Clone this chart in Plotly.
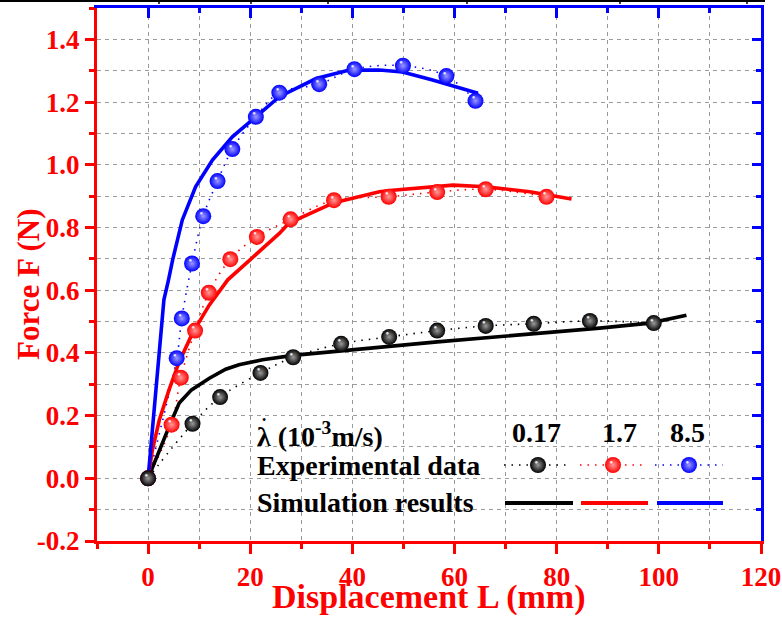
import plotly.graph_objects as go

# ---------------- data ----------------
# Experimental data, strain rate 0.17e-3 m/s (black)
exp_x_017 = [0, 8.7, 14.1, 22.0, 28.4, 37.8, 47.2, 56.6, 66.1, 75.5, 86.5, 99.0]
exp_y_017 = [0, 0.174, 0.259, 0.336, 0.386, 0.429, 0.451, 0.471, 0.486, 0.493, 0.502, 0.495]
# Experimental data, 1.7e-3 m/s (red)
exp_x_17 = [0, 4.6, 6.4, 9.2, 11.9, 16.1, 21.3, 27.9, 36.4, 47.1, 56.6, 66.1, 78.0]
exp_y_17 = [0, 0.171, 0.321, 0.471, 0.592, 0.699, 0.770, 0.826, 0.887, 0.898, 0.913, 0.922, 0.898]
# Experimental data, 8.5e-3 m/s (blue)
exp_x_85 = [0, 5.6, 6.6, 8.6, 10.8, 13.6, 16.5, 21.1, 25.7, 33.5, 40.4, 49.9, 58.4, 64.1]
exp_y_85 = [0, 0.383, 0.510, 0.685, 0.836, 0.948, 1.050, 1.153, 1.230, 1.257, 1.305, 1.316, 1.283, 1.204]

# Simulation results
sim_x_017 = [0, 2.2, 4.4, 6.1, 8.5, 12.0, 15.2, 17.8, 22.4, 28.4, 38.1, 47.3, 56.6, 88.4, 98.2, 105.4]
sim_y_017 = [0, 0.091, 0.176, 0.240, 0.282, 0.319, 0.348, 0.362, 0.378, 0.392, 0.407, 0.420, 0.435, 0.479, 0.495, 0.520]
sim_x_17 = [0, 0.85, 2.2, 4.1, 6.1, 8.7, 12.0, 15.6, 19.9, 25.7, 27.6, 36.4, 45.3, 47.3, 59.7, 66.1, 74.7, 82.9]
sim_y_17 = [0, 0.091, 0.186, 0.282, 0.372, 0.463, 0.553, 0.633, 0.696, 0.781, 0.814, 0.879, 0.914, 0.918, 0.935, 0.930, 0.914, 0.891]
sim_x_85 = [0, 3.1, 4.0, 4.8, 6.7, 9.3, 12.6, 16.5, 21.1, 25.7, 32.9, 39.4, 45.3, 49.8, 55.7, 60.3, 64.6]
sim_y_85 = [0, 0.569, 0.633, 0.696, 0.824, 0.930, 1.015, 1.089, 1.153, 1.217, 1.275, 1.302, 1.302, 1.296, 1.270, 1.247, 1.228]

x_tick_vals = [0, 20, 40, 60, 80, 100, 120]
x_tick_text = ["0", "20", "40", "60", "80", "100", "120"]
y_tick_vals = [-0.2, 0.0, 0.2, 0.4, 0.6, 0.8, 1.0, 1.2, 1.4]
y_tick_text = ["-0.2", "0.0", "0.2", "0.4", "0.6", "0.8", "1.0", "1.2", "1.4"]

rate_labels = ["0.17", "1.7", "8.5"]
colors = ["#000000", "#ff0000", "#0000ff"]
glow = ["#9a9a9a", "#ff9a9a", "#9a9aff"]

FONT = "Liberation Serif, Times New Roman, serif"
RED = "#ff0000"
BLUE = "#0000ff"

W, H = 782, 617
ML, MR, MT, MB = 97, 21, 8, 76
PW, PH = W - ML - MR, H - MT - MB

def px(x):
    return (x - ML) / PW

def py(y):
    return (H - MB - y) / PH

fig = go.Figure()

exp_sets = [(exp_x_017, exp_y_017), (exp_x_17, exp_y_17), (exp_x_85, exp_y_85)]
sim_sets = [(sim_x_017, sim_y_017), (sim_x_17, sim_y_17), (sim_x_85, sim_y_85)]

DOT = "1.5px,6px"

# dotted connections of experimental data
for (xs, ys), c in zip(exp_sets, colors):
    fig.add_trace(go.Scatter(x=xs, y=ys, mode="lines", showlegend=False, hoverinfo="skip",
                             line=dict(color=c, width=1.6, dash=DOT, shape="spline", smoothing=1.0)))
# simulation curves
for (xs, ys), c in zip(sim_sets, colors):
    fig.add_trace(go.Scatter(x=xs, y=ys, mode="lines", showlegend=False,
                             line=dict(color=c, width=3.6)))
# experimental markers (blue, red, then black so origin is black)
for i in [2, 1, 0]:
    xs, ys = exp_sets[i]
    fig.add_trace(go.Scatter(x=xs, y=ys, mode="markers", showlegend=False,
                             marker=dict(size=16, color=colors[i], line=dict(width=0),
                                         gradient=dict(type="radial", color=glow[i]))))
    fig.add_trace(go.Scatter(x=xs, y=ys, mode="text", text=["●"] * len(xs), showlegend=False,
                             hoverinfo="skip", textposition="top left",
                             textfont=dict(size=6, color="rgba(255,255,255,0.85)")))

# dummy trace for the blue top/right axes
fig.add_trace(go.Scatter(x=[], y=[], xaxis="x2", yaxis="y2", showlegend=False))

# ---- custom legend (pixel coordinates on a hidden overlay axis) ----
leg_mark_x = [538, 613, 689]
leg_dot_x0 = [504, 580, 655]
leg_dot_x1 = [567, 645, 723]
leg_line_x0 = [505, 581, 657]
leg_line_x1 = [573, 648, 723]
for i, c in enumerate(colors):
    fig.add_trace(go.Scatter(x=[leg_dot_x0[i], leg_dot_x1[i]], y=[465, 465], xaxis="x3", yaxis="y3",
                             mode="lines", showlegend=False, hoverinfo="skip",
                             line=dict(color=c, width=1.6, dash=DOT)))
    fig.add_trace(go.Scatter(x=[leg_line_x0[i], leg_line_x1[i]], y=[503, 503], xaxis="x3", yaxis="y3",
                             mode="lines", showlegend=False, hoverinfo="skip",
                             line=dict(color=c, width=4)))
    fig.add_trace(go.Scatter(x=[leg_mark_x[i]], y=[465], xaxis="x3", yaxis="y3", mode="markers",
                             showlegend=False, hoverinfo="skip",
                             marker=dict(size=16, color=c, line=dict(width=0),
                                         gradient=dict(type="radial", color=glow[i]))))
    fig.add_trace(go.Scatter(x=[leg_mark_x[i]], y=[465], xaxis="x3", yaxis="y3", mode="text",
                             text=["●"], showlegend=False, hoverinfo="skip", textposition="top left",
                             textfont=dict(size=6, color="rgba(255,255,255,0.85)")))

leg_font = dict(family=FONT, size=28, color="black", weight="bold")
annotations = [
    dict(x=px(255), y=py(434), text="λ (10<sup>-3</sup>m/s)", xanchor="left"),
    dict(x=px(536), y=py(432), text=rate_labels[0], xanchor="center"),
    dict(x=px(619), y=py(432), text=rate_labels[1], xanchor="center"),
    dict(x=px(687), y=py(432), text=rate_labels[2], xanchor="center"),
    dict(x=px(255), y=py(465), text="Experimental data", xanchor="left"),
    dict(x=px(255), y=py(502), text="Simulation results", xanchor="left"),
]
for a in annotations:
    a.update(xref="paper", yref="paper", yanchor="middle", showarrow=False, font=leg_font)
# dot over lambda (time derivative)
annotations.append(dict(x=px(264), y=py(420), xref="paper", yref="paper", text="•", showarrow=False,
                        xanchor="center", yanchor="middle",
                        font=dict(family=FONT, size=12, color="black")))
# axis titles
annotations.append(dict(x=px(429), y=py(597), xref="paper", yref="paper", text="Displacement L (mm)",
                        showarrow=False, xanchor="center", yanchor="middle",
                        font=dict(family=FONT, size=34, color=RED, weight="bold")))
annotations.append(dict(x=px(28), y=py(285), xref="paper", yref="paper", text="Force F (N)",
                        showarrow=False, xanchor="center", yanchor="middle", textangle=-90,
                        font=dict(family=FONT, size=31, color=RED, weight="bold")))

# top border artefact (black rule at the very top of the image)
shapes = [dict(type="line", xref="paper", yref="paper", x0=px(0), x1=px(765), y0=py(1), y1=py(1),
               line=dict(color="black", width=2))]
for tx in [159, 251, 328, 467, 620, 747]:
    shapes.append(dict(type="line", xref="paper", yref="paper", x0=px(tx), x1=px(tx), y0=py(0), y1=py(4),
                       line=dict(color="black", width=1.5)))

grid = dict(gridcolor="#9a9a9a", griddash="4px,4px", gridwidth=1)
tickfont = dict(family=FONT, size=27, color=RED, weight="bold")

fig.update_layout(
    width=W, height=H,
    margin=dict(l=ML, r=MR, t=MT, b=MB, autoexpand=False),
    paper_bgcolor="white", plot_bgcolor="white",
    showlegend=False,
    annotations=annotations,
    shapes=shapes,
    xaxis=dict(range=[-10, 120], tickmode="array", tickvals=x_tick_vals, ticktext=x_tick_text,
               ticks="outside", ticklen=10, tickwidth=3, tickcolor=RED, automargin=False,
               showline=True, linecolor=RED, linewidth=3, zeroline=False,
               tickfont=tickfont, showgrid=True, **grid,
               minor=dict(dtick=10, tick0=0, ticks="outside", ticklen=5, tickwidth=3, tickcolor=RED,
                          showgrid=True, **grid)),
    yaxis=dict(range=[-0.2, 1.5], tickmode="array", tickvals=y_tick_vals, ticktext=y_tick_text,
               ticks="outside", ticklen=9, tickwidth=3, tickcolor=RED, automargin=False,
               showline=True, linecolor=RED, linewidth=3, zeroline=False,
               tickfont=tickfont, showgrid=True, **grid,
               minor=dict(dtick=0.1, tick0=0, ticks="outside", ticklen=5, tickwidth=3, tickcolor=RED,
                          showgrid=True, **grid)),
    xaxis2=dict(range=[-10, 120], overlaying="x", side="top", anchor="y2", automargin=False,
                tickmode="array", tickvals=x_tick_vals, showticklabels=False,
                ticks="inside", ticklen=10, tickwidth=3, tickcolor=BLUE,
                showline=True, linecolor=BLUE, linewidth=3, zeroline=False, showgrid=False,
                minor=dict(dtick=10, tick0=0, ticks="inside", ticklen=5, tickwidth=3, tickcolor=BLUE,
                           showgrid=False)),
    yaxis2=dict(range=[-0.2, 1.5], overlaying="y", side="right", anchor="x2", automargin=False,
                tickmode="array", tickvals=y_tick_vals, showticklabels=False,
                ticks="inside", ticklen=9, tickwidth=3, tickcolor=BLUE,
                showline=True, linecolor=BLUE, linewidth=3, zeroline=False, showgrid=False,
                minor=dict(dtick=0.1, tick0=0, ticks="inside", ticklen=5, tickwidth=3, tickcolor=BLUE,
                           showgrid=False)),
    xaxis3=dict(range=[ML, W - MR], overlaying="x", visible=False, anchor="y3", fixedrange=True),
    yaxis3=dict(range=[H - MB, MT], overlaying="y", visible=False, anchor="x3", fixedrange=True),
)

fig.write_html("out.html", config={"displayModeBar": False},
               post_script="document.body.style.margin='0';document.body.style.padding='0';")
